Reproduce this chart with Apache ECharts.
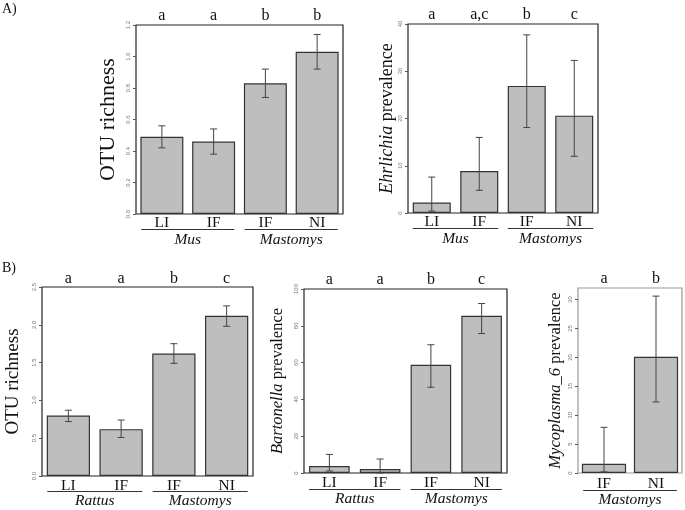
<!DOCTYPE html>
<html><head><meta charset="utf-8">
<script src="https://cdn.jsdelivr.net/npm/echarts@6/dist/echarts.min.js"></script>
<style>html,body{margin:0;padding:0;background:#fff}#c{width:685px;height:510px}</style>
</head><body><div id="c"></div>
<script>
// ---- Panel A (left): OTU richness, Mus / Mastomys
const a1Categories = ['LI', 'IF', 'IF', 'NI'];
const a1Values = [0.49, 0.46, 0.83, 1.03];
const a1Low = [0.42, 0.38, 0.74, 0.92];
const a1High = [0.56, 0.54, 0.92, 1.14];
const a1Letters = ['a', 'a', 'b', 'b'];
const a1Groups = ['Mus', 'Mastomys'];
const a1GroupSpans = [[0, 1], [2, 3]];
const a1YMax = 1.2, a1YStep = 0.2;

// ---- Panel A (right): Ehrlichia prevalence
const a2Categories = ['LI', 'IF', 'IF', 'NI'];
const a2Values = [2.2, 8.9, 26.9, 20.6];
const a2Low = [0.4, 4.8, 18.1, 12.0];
const a2High = [7.6, 16.0, 37.7, 32.3];
const a2Letters = ['a', 'a,c', 'b', 'c'];
const a2Groups = ['Mus', 'Mastomys'];
const a2GroupSpans = [[0, 1], [2, 3]];
const a2YMax = 40, a2YStep = 10;

// ---- Panel B (left): OTU richness, Rattus / Mastomys
const b1Categories = ['LI', 'IF', 'IF', 'NI'];
const b1Values = [0.80, 0.62, 1.62, 2.12];
const b1Low = [0.72, 0.51, 1.49, 1.98];
const b1High = [0.87, 0.74, 1.75, 2.25];
const b1Letters = ['a', 'a', 'b', 'c'];
const b1Groups = ['Rattus', 'Mastomys'];
const b1GroupSpans = [[0, 1], [2, 3]];
const b1YMax = 2.5, b1YStep = 0.5;

// ---- Panel B (middle): Bartonella prevalence
const b2Categories = ['LI', 'IF', 'IF', 'NI'];
const b2Values = [3.8, 2.2, 58.8, 85.4];
const b2Low = [1.1, 0.0, 46.6, 75.8];
const b2High = [10.1, 7.6, 69.7, 92.1];
const b2Letters = ['a', 'a', 'b', 'c'];
const b2Groups = ['Rattus', 'Mastomys'];
const b2GroupSpans = [[0, 1], [2, 3]];
const b2YMax = 100, b2YStep = 20;

// ---- Panel B (right): Mycoplasma_6 prevalence
const b3Categories = ['IF', 'NI'];
const b3Values = [1.6, 20.1];
const b3Low = [0.2, 12.3];
const b3High = [7.9, 30.6];
const b3Letters = ['a', 'b'];
const b3Groups = ['Mastomys'];
const b3GroupSpans = [[0, 1]];
const b3YMax = 32, b3YStep = 5;

const SERIF = '"Liberation Serif", "DejaVu Serif", serif';
const SANS = '"Liberation Sans", "DejaVu Sans", sans-serif';

const panels = [
  { cats: a1Categories, vals: a1Values, lo: a1Low, hi: a1High, letters: a1Letters, groups: a1Groups, spans: a1GroupSpans,
    ymax: a1YMax, step: a1YStep, dec: 1, grid: { left: 136, top: 25, width: 207, height: 189 },
    name: 'OTU richness', nameSize: 22, nameGap: 17, barW: '83%', border: '#222', labM: 1, topM: 1, lineOff: 15.5, txtOff: 2.5 },
  { cats: a2Categories, vals: a2Values, lo: a2Low, hi: a2High, letters: a2Letters, groups: a2Groups, spans: a2GroupSpans,
    ymax: a2YMax, step: a2YStep, dec: 0, grid: { left: 408, top: 24, width: 190, height: 189 },
    name: '{i|Ehrlichia} prevalence', nameSize: 18, nameGap: 11, barW: '80%', border: '#222', labM: 1, topM: 1, lineOff: 15.5, txtOff: 2.5 },
  { cats: b1Categories, vals: b1Values, lo: b1Low, hi: b1High, letters: b1Letters, groups: b1Groups, spans: b1GroupSpans,
    ymax: b1YMax, step: b1YStep, dec: 1, grid: { left: 42, top: 287, width: 211, height: 189 },
    name: 'OTU richness', nameSize: 19, nameGap: 19, barW: '82%', border: '#222', labM: 2, topM: 0, lineOff: 15.5, txtOff: 1 },
  { cats: b2Categories, vals: b2Values, lo: b2Low, hi: b2High, letters: b2Letters, groups: b2Groups, spans: b2GroupSpans,
    ymax: b2YMax, step: b2YStep, dec: 0, grid: { left: 304, top: 289, width: 203, height: 184 },
    name: '{i|Bartonella} prevalence', nameSize: 16.5, nameGap: 18, barW: '80%', border: '#222', labM: 2, topM: 1, lineOff: 16.5, txtOff: 1 },
  { cats: b3Categories, vals: b3Values, lo: b3Low, hi: b3High, letters: b3Letters, groups: b3Groups, spans: b3GroupSpans,
    ymax: b3YMax, step: b3YStep, dec: 0, grid: { left: 578, top: 288, width: 104, height: 185 },
    name: '{i|Mycoplasma_6} prevalence', nameSize: 16.5, nameGap: 14, barW: '85%', border: '#999', labM: 3, topM: 1, lineOff: 17.5, txtOff: 1 }
];

const grid = [], xAxis = [], yAxis = [], series = [];
panels.forEach((p, gi) => {
  grid.push(Object.assign({ show: true, borderColor: p.border, borderWidth: 1.2, backgroundColor: 'transparent', containLabel: false }, p.grid));
  // bottom category axis
  xAxis.push({
    type: 'category', gridIndex: gi, data: p.cats, position: 'bottom',
    axisLine: { show: false }, axisTick: { show: false },
    axisLabel: { color: '#111', fontFamily: SERIF, fontSize: 15.5, margin: p.labM, interval: 0 }
  });
  // top letters axis
  xAxis.push({
    type: 'category', gridIndex: gi, data: p.letters, position: 'top',
    axisLine: { show: false }, axisTick: { show: false },
    axisLabel: { color: '#111', fontFamily: SERIF, fontSize: 16, margin: p.topM, interval: 0 }
  });
  const maxIsTick = Math.abs(Math.round(p.ymax / p.step) * p.step - p.ymax) < 1e-9;
  yAxis.push({
    type: 'value', gridIndex: gi, min: 0, max: p.ymax, interval: p.step,
    axisLine: { show: false }, splitLine: { show: false },
    axisTick: { show: true, length: 3, lineStyle: { color: '#555', width: 1 } },
    axisLabel: { rotate: 90, fontSize: 6, color: '#777', fontFamily: SANS, margin: 5, showMaxLabel: maxIsTick,
      formatter: v => v.toFixed(p.dec) },
    name: p.name, nameLocation: 'middle', nameGap: p.nameGap,
    nameTextStyle: { fontFamily: SERIF, fontSize: p.nameSize, color: '#111', rich: { i: { fontFamily: SERIF, fontSize: p.nameSize, fontStyle: 'italic', color: '#111' } } }
  });
  const xi = gi * 2;
  series.push({
    type: 'bar', xAxisIndex: xi, yAxisIndex: gi, data: p.vals, barWidth: p.barW,
    itemStyle: { color: '#bebebe', borderColor: '#333', borderWidth: 1.2 }, silent: true, animation: false
  });
  series.push({
    type: 'custom', xAxisIndex: xi, yAxisIndex: gi, animation: false, silent: true, z: 5,
    data: p.lo.map((l, i) => [i, l, p.hi[i]]),
    renderItem: (params, api) => {
      const x = api.value(0);
      const a = api.coord([x, api.value(1)]);
      const b = api.coord([x, api.value(2)]);
      const c = 3.5;
      const st = { stroke: '#444', lineWidth: 1 };
      return { type: 'group', children: [
        { type: 'line', shape: { x1: a[0], y1: a[1], x2: b[0], y2: b[1] }, style: st },
        { type: 'line', shape: { x1: a[0] - c, y1: a[1], x2: a[0] + c, y2: a[1] }, style: st },
        { type: 'line', shape: { x1: b[0] - c, y1: b[1], x2: b[0] + c, y2: b[1] }, style: st }
      ] };
    }
  });
  series.push({
    type: 'custom', xAxisIndex: xi, yAxisIndex: gi, animation: false, silent: true, clip: false,
    data: p.spans.map(s => [s[0], s[1]]),
    renderItem: (params, api) => {
      const s = api.value(0), e = api.value(1);
      const l = api.coord([s, 0]);
      const r = api.coord([e, 0]);
      const hb = api.size([1, 0])[0] / 2;
      const x1 = l[0] - hb * 0.8, x2 = r[0] + hb * 0.8;
      const y = l[1] + p.lineOff;
      return { type: 'group', children: [
        { type: 'line', shape: { x1: x1, y1: y, x2: x2, y2: y }, style: { stroke: '#333', lineWidth: 1 } },
        { type: 'text', x: (x1 + x2) / 2, y: y + p.txtOff, style: { text: p.groups[params.dataIndex], fontFamily: SERIF, fontStyle: 'italic', fontSize: 15.5, fill: '#111', align: 'center', verticalAlign: 'top' } }
      ] };
    }
  });
});

const chart = echarts.init(document.getElementById('c'), null, { renderer: 'canvas' });
chart.setOption({
  animation: false,
  backgroundColor: '#fff',
  grid, xAxis, yAxis, series,
  graphic: [
    { type: 'text', left: 2, top: 2, style: { text: 'A)', fontFamily: SERIF, fontSize: 14, fill: '#111' } },
    { type: 'text', left: 2, top: 261, style: { text: 'B)', fontFamily: SERIF, fontSize: 14, fill: '#111' } }
  ]
});
</script></body></html>
